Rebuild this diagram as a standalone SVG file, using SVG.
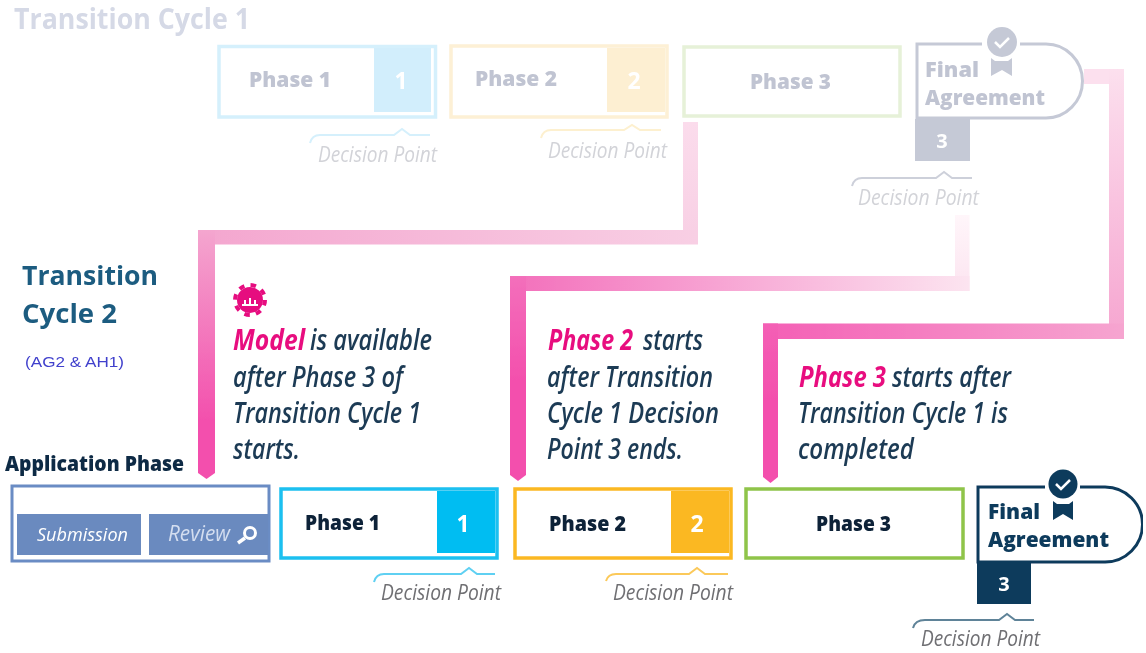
<svg xmlns="http://www.w3.org/2000/svg" width="1146" height="653" viewBox="0 0 1146 653">
<style>
text{font-family:"Open Sans","Noto Sans","Liberation Sans",sans-serif}
.b{font-weight:700}
.note{font-size:28px;font-style:italic;font-weight:600;fill:#1c3a54}
.pk{font-size:28px;font-style:italic;fill:#e8107f;font-weight:700}
.dp{font-size:22px;font-style:italic;fill:#6f6f73}
.dpf{font-size:22px;font-style:italic;fill:#d2d3d8}
.ph{font-size:21px;font-weight:800;fill:#0e2238}
.phf{font-size:21px;font-weight:800;fill:#c0c4d2}
.fa{font-size:20.500px;font-weight:800}
.num{font-size:25px;font-weight:700;fill:#fff;text-anchor:middle}
.box{fill:#fff;stroke-width:3.500}
.br{fill:none;stroke-width:2}
</style>
<defs>
<linearGradient id="c1a" gradientUnits="userSpaceOnUse" x1="0" y1="122" x2="0" y2="244"><stop offset="0" stop-color="#fbdcec"/><stop offset="1" stop-color="#f8cfe4"/></linearGradient>
<linearGradient id="c1b" gradientUnits="userSpaceOnUse" x1="697" y1="0" x2="199" y2="0"><stop offset="0" stop-color="#f8cfe4"/><stop offset="1" stop-color="#f4a6cf"/></linearGradient>
<linearGradient id="c1c" gradientUnits="userSpaceOnUse" x1="0" y1="230" x2="0" y2="420"><stop offset="0" stop-color="#f4a6cf"/><stop offset="1" stop-color="#f350ad"/></linearGradient>
<linearGradient id="c2a" gradientUnits="userSpaceOnUse" x1="0" y1="215" x2="0" y2="291"><stop offset="0" stop-color="#fff6fa"/><stop offset="1" stop-color="#fce4f0"/></linearGradient>
<linearGradient id="c2b" gradientUnits="userSpaceOnUse" x1="969" y1="0" x2="510" y2="0"><stop offset="0" stop-color="#fce4f0"/><stop offset="1" stop-color="#f36fbb"/></linearGradient>
<linearGradient id="c2c" gradientUnits="userSpaceOnUse" x1="0" y1="276" x2="0" y2="380"><stop offset="0" stop-color="#f36fbb"/><stop offset="1" stop-color="#f350ad"/></linearGradient>
<linearGradient id="c3a" gradientUnits="userSpaceOnUse" x1="0" y1="69" x2="0" y2="339"><stop offset="0" stop-color="#fce0ee"/><stop offset="1" stop-color="#f6a5d0"/></linearGradient>
<linearGradient id="c3b" gradientUnits="userSpaceOnUse" x1="1124" y1="0" x2="763" y2="0"><stop offset="0" stop-color="#f6a5d0"/><stop offset="1" stop-color="#f45fb5"/></linearGradient>
<linearGradient id="c3c" gradientUnits="userSpaceOnUse" x1="0" y1="323" x2="0" y2="400"><stop offset="0" stop-color="#f45fb5"/><stop offset="1" stop-color="#f350ad"/></linearGradient>
<filter id="soft" x="0" y="0" width="100%" height="100%"><feGaussianBlur stdDeviation="0.6"/></filter>
</defs>
<rect width="1146" height="653" fill="#fff"/>
<g filter="url(#soft)">
<g id="connectors">
<rect x="683" y="122" width="15" height="122" fill="url(#c1a)"/>
<rect x="198" y="230" width="500" height="14.500" fill="url(#c1b)"/>
<path d="M198 230H215V473L206.500 479L198 473Z" fill="url(#c1c)"/>
<rect x="955" y="215" width="14.500" height="76" fill="url(#c2a)"/>
<rect x="510" y="276" width="459.500" height="15" fill="url(#c2b)"/>
<path d="M510 276H526V475L518 481L510 475Z" fill="url(#c2c)"/>
<rect x="1084" y="69" width="40" height="15" fill="#fce0ee"/>
<rect x="1109" y="69" width="15" height="270" fill="url(#c3a)"/>
<rect x="763" y="323.500" width="361" height="15.500" fill="url(#c3b)"/>
<path d="M763 323.500H778V477L770.500 483L763 477Z" fill="url(#c3c)"/>
</g>
<g id="title-cycle-1"><text class="b" x="14" y="29" font-size="29" fill="#d5d9e6" textLength="236" lengthAdjust="spacingAndGlyphs">Transition Cycle 1</text></g>
<g id="top-phase-1">
<rect class="box" x="219" y="46.500" width="216.500" height="70.500" stroke="#d5f0fc"/>
<rect x="374" y="48" width="57" height="64" fill="#d2eefc"/>
<text class="phf" x="249" y="87" textLength="82" lengthAdjust="spacingAndGlyphs">Phase 1</text>
<text class="num" x="401" y="89" style="font-size:23px">1</text>
<path class="br" stroke="#d5f0fc" d="M310 143Q312 135 320 135H394L402 129L410 135H430"/>
<text class="dpf" x="318" y="162" textLength="119" lengthAdjust="spacingAndGlyphs">Decision Point</text>
</g>
<g id="top-phase-2">
<rect class="box" x="451" y="46" width="216" height="71" stroke="#fdf0d5"/>
<rect x="607" y="48" width="58" height="64" fill="#fdefd2"/>
<text class="phf" x="475" y="86" textLength="82" lengthAdjust="spacingAndGlyphs">Phase 2</text>
<text class="num" x="634" y="89" style="font-size:23px">2</text>
<path class="br" stroke="#fdf0cf" d="M541 138Q543 130 551 130H624L632 125L640 130H661"/>
<text class="dpf" x="548" y="158" textLength="119" lengthAdjust="spacingAndGlyphs">Decision Point</text>
</g>
<g id="top-phase-3">
<rect class="box" x="684" y="47" width="216" height="69" stroke="#e6f1d8"/>
<text class="phf" x="750" y="89" textLength="81" lengthAdjust="spacingAndGlyphs">Phase 3</text>
</g>
<g id="top-final">
<path fill="#fff" stroke="#c5c9d6" stroke-width="3" d="M982 44H917V118H1046A36.500 37 0 0 0 1046 44H1020"/>
<circle cx="1002" cy="42" r="15" fill="#c5c9d6"/>
<path d="M995 42L1000 47L1009 38" fill="none" stroke="#fff" stroke-width="2.500"/>
<path d="M991 58L995 61H1008L1012 58V76L1002 70L991 76Z" fill="#c5c9d6"/>
<text class="phf fa" x="925" y="77" textLength="54" lengthAdjust="spacingAndGlyphs">Final</text>
<text class="phf fa" x="925" y="105" textLength="120" lengthAdjust="spacingAndGlyphs">Agreement</text>
<rect x="915" y="119" width="55" height="42" fill="#c5c9d6"/>
<text class="num" x="942" y="148" style="font-size:20px">3</text>
<path class="br" stroke="#cdd0da" d="M852 186Q854 178 862 178H936L944 172L952 178H972"/>
<text class="dpf" x="858" y="205" textLength="121" lengthAdjust="spacingAndGlyphs">Decision Point</text>
</g>
<g id="title-cycle-2">
<text class="b" x="22" y="285" font-size="27.500" fill="#1d5c80" textLength="136" lengthAdjust="spacingAndGlyphs">Transition</text>
<text class="b" x="22" y="323" font-size="27.500" fill="#1d5c80" textLength="95" lengthAdjust="spacingAndGlyphs">Cycle 2</text>
<text x="25" y="367" font-size="15" fill="#3f3fcc" style="font-family:'Liberation Sans',sans-serif" textLength="99" lengthAdjust="spacingAndGlyphs">(AG2 &amp; AH1)</text>
</g>
<g id="note-model">
<circle cx="250" cy="300" r="13" fill="#e6097f"/>
<circle cx="250" cy="300" r="15" fill="none" stroke="#e6097f" stroke-width="4" stroke-dasharray="5.500 6.300"/>
<path d="M242 305H258M245 305V300M250 305V298M255 305V300" stroke="#fff" stroke-width="2" fill="none"/>
<text class="pk" x="233" y="350" textLength="72" lengthAdjust="spacingAndGlyphs">Model</text>
<text class="note" x="310" y="350" textLength="122" lengthAdjust="spacingAndGlyphs">is available</text>
<text class="note" x="233" y="387" textLength="170" lengthAdjust="spacingAndGlyphs">after Phase 3 of</text>
<text class="note" x="233" y="423" textLength="188" lengthAdjust="spacingAndGlyphs">Transition Cycle 1</text>
<text class="note" x="233" y="459" textLength="67" lengthAdjust="spacingAndGlyphs">starts.</text>
</g>
<g id="note-phase-2">
<text class="pk" x="548" y="350" textLength="85" lengthAdjust="spacingAndGlyphs">Phase 2</text>
<text class="note" x="643" y="350" textLength="60" lengthAdjust="spacingAndGlyphs">starts</text>
<text class="note" x="547" y="387" textLength="166" lengthAdjust="spacingAndGlyphs">after Transition</text>
<text class="note" x="547" y="423" textLength="172" lengthAdjust="spacingAndGlyphs">Cycle 1 Decision</text>
<text class="note" x="547" y="459" textLength="136" lengthAdjust="spacingAndGlyphs">Point 3 ends.</text>
</g>
<g id="note-phase-3">
<text class="pk" x="799" y="387" textLength="87" lengthAdjust="spacingAndGlyphs">Phase 3</text>
<text class="note" x="892" y="387" textLength="119" lengthAdjust="spacingAndGlyphs">starts after</text>
<text class="note" x="798" y="423" textLength="210" lengthAdjust="spacingAndGlyphs">Transition Cycle 1 is</text>
<text class="note" x="798" y="459" textLength="116" lengthAdjust="spacingAndGlyphs">completed</text>
</g>
<g id="application-phase">
<text x="5" y="471" font-size="21" font-weight="800" fill="#0f2a44" textLength="179" lengthAdjust="spacingAndGlyphs">Application Phase</text>
<rect x="12" y="486" width="257" height="75" fill="#fff" stroke="#6b8cc4" stroke-width="3"/>
<rect x="17" y="514" width="124" height="41" fill="#6a8abf"/>
<rect x="149" y="514" width="119" height="41" fill="#6a8abf"/>
<text x="37" y="541" font-size="18" font-style="italic" fill="#fff" textLength="91" lengthAdjust="spacingAndGlyphs">Submission</text>
<text x="168" y="541" font-size="21" font-style="italic" fill="#d4def0" textLength="62" lengthAdjust="spacingAndGlyphs">Review</text>
<circle cx="250" cy="533" r="5.500" fill="none" stroke="#fff" stroke-width="3"/>
<path d="M245 538L238 543" stroke="#fff" stroke-width="3.500"/>
</g>
<g id="phase-1">
<rect class="box" x="281" y="489" width="216" height="69" stroke="#1cc0f0"/>
<rect x="437" y="491" width="58" height="62" fill="#00bdf2"/>
<text class="ph" x="305" y="530" textLength="75" lengthAdjust="spacingAndGlyphs">Phase 1</text>
<text class="num" x="463" y="532" style="font-size:23px">1</text>
<path class="br" stroke="#5fd0f2" d="M374 582Q376 574 384 574H461L469 568L477 574H495"/>
<text class="dp" x="381" y="600" textLength="120" lengthAdjust="spacingAndGlyphs">Decision Point</text>
</g>
<g id="phase-2">
<rect class="box" x="515" y="489" width="216" height="69" stroke="#fbb824"/>
<rect x="671" y="491" width="58" height="62" fill="#fbb824"/>
<text class="ph" x="549" y="531" textLength="77" lengthAdjust="spacingAndGlyphs">Phase 2</text>
<text class="num" x="697" y="532" style="font-size:23px">2</text>
<path class="br" stroke="#fbc95a" d="M606 581Q608 574 616 574H689L697 568L705 574H728"/>
<text class="dp" x="613" y="600" textLength="120" lengthAdjust="spacingAndGlyphs">Decision Point</text>
</g>
<g id="phase-3">
<rect class="box" x="746" y="489" width="217" height="69" stroke="#8fc449"/>
<text class="ph" x="816" y="531" textLength="75" lengthAdjust="spacingAndGlyphs">Phase 3</text>
</g>
<g id="final-agreement">
<path fill="#fff" stroke="#0e3a5c" stroke-width="3" d="M1045 487H978V562H1105A37.500 37.500 0 0 0 1105 487H1080"/>
<circle cx="1063" cy="484" r="14.500" fill="#0e3a5c"/>
<path d="M1056 484L1061 489L1070 480" fill="none" stroke="#fff" stroke-width="2.500"/>
<path d="M1053 501L1057 504H1069L1073 501V520L1063 514L1053 520Z" fill="#0e3a5c"/>
<text class="fa" x="988" y="519" fill="#0e3a5c" textLength="52" lengthAdjust="spacingAndGlyphs">Final</text>
<text class="fa" x="988" y="547" fill="#0e3a5c" textLength="121" lengthAdjust="spacingAndGlyphs">Agreement</text>
<rect x="977" y="562" width="54" height="42" fill="#0e3a5c"/>
<text class="num" x="1004" y="591" style="font-size:20px">3</text>
<path class="br" stroke="#5f8398" d="M913 628Q915 620 925 620H999L1007 614L1015 620H1034"/>
<text class="dp" x="921" y="646" textLength="119" lengthAdjust="spacingAndGlyphs">Decision Point</text>
</g>
</g>
</svg>
